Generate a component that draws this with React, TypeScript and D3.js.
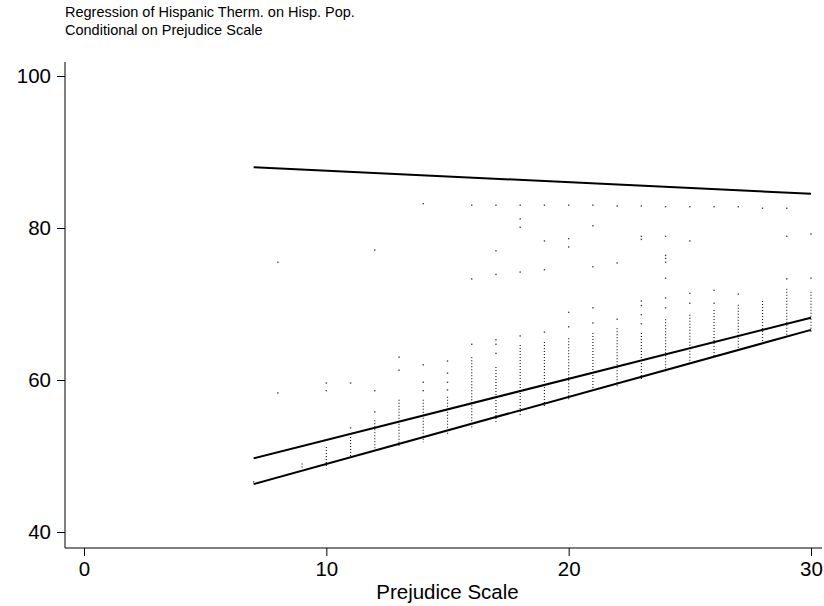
import React, { useEffect, useRef } from "react";
import { select, scaleLinear, axisLeft, axisBottom, line } from "d3";

// prejudice scale columns and the dense part of each column (low / high)
const columns = [9, 10, 11, 12, 13, 14, 15, 16, 17, 18, 19, 20, 21, 22, 23, 24, 25, 26, 27, 28, 29, 30];
const bandLo = [48.4, 48.4, 49.9, 50.8, 51.1, 51.8, 52.8, 53.7, 54.5, 55.4, 56.3, 57.4, 58.3, 59.1, 60.0, 60.9, 62.0, 62.9, 63.7, 64.6, 65.7, 66.3];
const bandHi = [49.0, 51.2, 52.5, 54.7, 57.4, 57.4, 57.8, 63.0, 61.7, 64.6, 65.0, 65.5, 66.2, 66.8, 66.2, 68.0, 68.6, 69.2, 69.9, 70.4, 72.0, 71.6];

// isolated observations
const scatterX = [
  7, 8, 8, 10, 10, 11, 11, 12, 12, 12, 13, 13, 14, 14, 14, 14, 15, 15, 15, 15,
  16, 16, 16, 17, 17, 17, 17, 17, 17, 18, 18, 18, 18, 18, 19, 19, 19, 19,
  20, 20, 20, 20, 20, 21, 21, 21, 21, 21, 22, 22, 22,
  23, 23, 23, 23, 23, 23, 23, 24, 24, 24, 24, 24, 24, 24, 24,
  25, 25, 25, 25, 26, 26, 26, 27, 27, 28, 29, 29, 29, 30, 30,
];
const scatterY = [
  46.6, 75.5, 58.3, 59.6, 58.6, 59.6, 53.7, 77.1, 58.6, 55.8, 63.0, 61.3, 83.2, 62.0, 59.7, 58.6, 62.5, 60.9, 59.7, 58.7,
  83.0, 73.3, 64.7, 83.0, 77.0, 73.9, 65.3, 64.7, 63.5, 83.0, 81.2, 80.1, 74.2, 65.8, 83.0, 78.3, 74.5, 66.3,
  83.0, 78.6, 77.5, 68.9, 67.0, 83.0, 80.3, 74.9, 69.5, 67.5, 82.9, 75.4, 68.0,
  82.9, 78.9, 78.5, 70.4, 69.8, 68.6, 67.4, 82.8, 78.9, 76.4, 76.0, 75.5, 73.4, 70.8, 69.5,
  82.8, 78.3, 71.4, 70.1, 82.8, 71.8, 70.1, 82.8, 71.3, 82.6, 82.6, 78.9, 73.3, 79.2, 73.4,
];

// fitted regression lines (endpoints)
const fitX = [7, 30];
const fitTop = [88.0, 84.5];
const fitMid = [49.7, 68.2];
const fitLow = [46.3, 66.6];

const xTicks = [0, 10, 20, 30];
const yTicks = [40, 60, 80, 100];

const W = 824;
const H = 606;

export default function App() {
  const svgRef = useRef<SVGSVGElement>(null);

  useEffect(() => {
    const svg = select(svgRef.current);
    svg.selectAll("*").remove();

    const x = scaleLinear().domain([0, 30]).range([84, 811]);
    const y = scaleLinear().domain([40, 100]).range([532, 76]);
    const font = "'Liberation Sans', Arial, sans-serif";

    // title
    svg.append("text").attr("x", 65).attr("y", 17).attr("font-family", font).attr("font-size", 14.5)
      .text("Regression of Hispanic Therm. on Hisp. Pop.");
    svg.append("text").attr("x", 65).attr("y", 35).attr("font-family", font).attr("font-size", 14.5)
      .text("Conditional on Prejudice Scale");

    // dense columns drawn as dotted vertical runs
    svg.append("g").selectAll("line").data(columns).join("line")
      .attr("x1", (d) => x(d)).attr("x2", (d) => x(d))
      .attr("y1", (d, i) => y(bandHi[i])).attr("y2", (d, i) => y(bandLo[i]))
      .attr("stroke", "#222").attr("stroke-width", 1.2).attr("stroke-dasharray", "1 2");

    svg.append("g").selectAll("rect").data(scatterX).join("rect")
      .attr("x", (d) => x(d) - 0.7).attr("y", (d, i) => y(scatterY[i]) - 0.7)
      .attr("width", 1.4).attr("height", 1.4).attr("fill", "#444");

    const fitLine = line<number>().x((d, i) => x(fitX[i])).y((d) => y(d));
    [fitTop, fitMid, fitLow].forEach((s) => {
      svg.append("path").attr("d", fitLine(s)).attr("fill", "none").attr("stroke", "#000").attr("stroke-width", 2);
    });

    // axes
    const gy = svg.append("g").attr("transform", "translate(65,0)")
      .call(axisLeft(y).tickValues(yTicks).tickSize(8).tickPadding(6));
    gy.select(".domain").remove();
    gy.selectAll("text").attr("font-family", font).attr("font-size", 20.5).attr("fill", "#000");
    gy.selectAll("line").attr("stroke", "#000");
    svg.append("line").attr("x1", 65).attr("x2", 65).attr("y1", 62).attr("y2", 548).attr("stroke", "#000");

    const gx = svg.append("g").attr("transform", "translate(0,548)")
      .call(axisBottom(x).tickValues(xTicks).tickSize(8).tickPadding(5));
    gx.select(".domain").remove();
    gx.selectAll("text").attr("font-family", font).attr("font-size", 20.5).attr("fill", "#000");
    gx.selectAll("line").attr("stroke", "#000");
    svg.append("line").attr("x1", 65).attr("x2", 822).attr("y1", 548).attr("y2", 548).attr("stroke", "#000");

    svg.append("text").attr("x", x(15)).attr("y", 599).attr("text-anchor", "middle")
      .attr("font-family", font).attr("font-size", 20.5).text("Prejudice Scale");
  }, []);

  return (
    <div style={{ position: "absolute", left: 0, top: 0, background: "#fff" }}>
      <svg ref={svgRef} width={W} height={H}></svg>
    </div>
  );
}
